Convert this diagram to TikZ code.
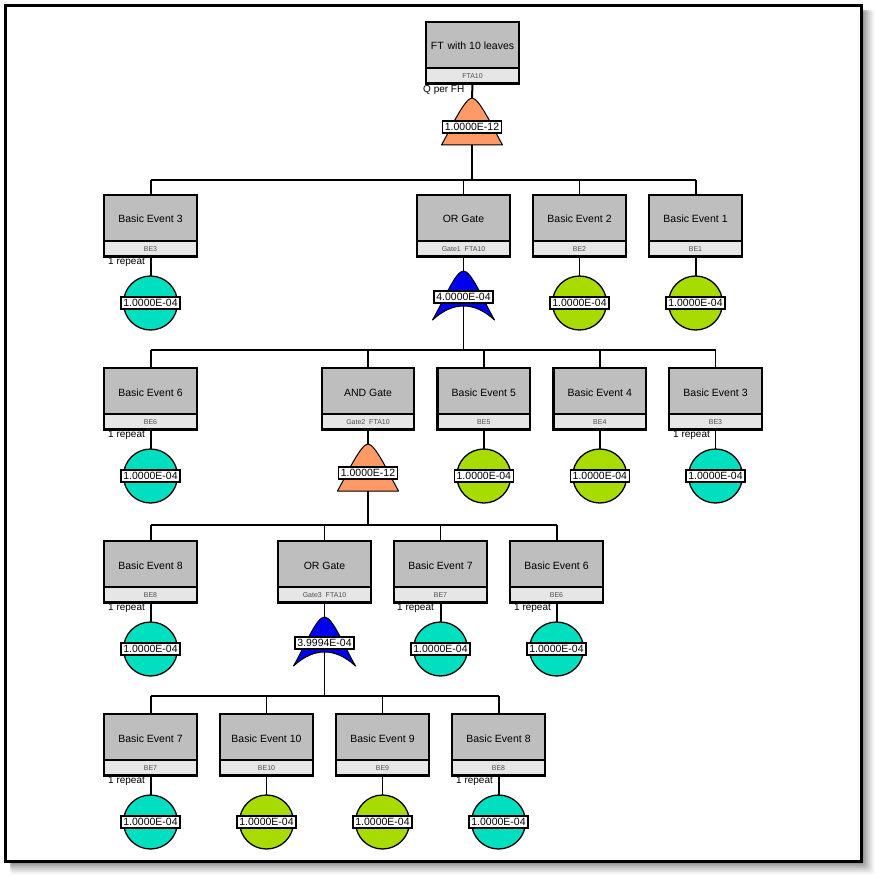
\documentclass[tikz,border=0pt]{standalone}
\usepackage{fontspec}
\setmainfont{Liberation Sans}
\definecolor{boxgray}{HTML}{BEBEBE}
\definecolor{subgray}{HTML}{E6E6E6}
\definecolor{andorange}{HTML}{FF9966}
\definecolor{orblue}{HTML}{0000F0}
\definecolor{teal}{HTML}{00E0C0}
\definecolor{lime}{HTML}{A8DC00}
\tikzset{
  wire/.style={line width=2pt,draw=black},
  thinwire/.style={line width=1pt,draw=black},
  titlebox/.style={draw=black,line width=2.2pt,fill=boxgray,minimum width=92.5pt,minimum height=46pt,outer sep=0pt,inner sep=0pt,anchor=north,font=\fontsize{10.5}{12}\selectfont},
  subbox/.style={draw=black,line width=2.2pt,fill=subgray,minimum width=92.5pt,minimum height=15.5pt,outer sep=0pt,inner sep=0pt,anchor=north,font=\fontsize{7}{8}\selectfont,text=black!70},
  valuebox/.style={draw=black,line width=1.4pt,fill=white,minimum width=59pt,minimum height=12pt,inner sep=0pt,outer sep=0pt,font=\fontsize{10.5}{12}\selectfont},
  eventdisc/.style={circle,draw=black,line width=1.3pt,minimum size=54pt,inner sep=0pt,outer sep=0pt},
  note/.style={inner sep=0pt,anchor=west,font=\fontsize{10}{12}\selectfont},
  gateline/.style={draw=black,line width=1pt,line join=round}
}
% title box with its lower id strip; the id names the title part
\newcommand{\ftbox}[5]{%
  \node[titlebox] (#1) at (#2,#3) {\raisebox{-1pt}[8pt][0pt]{#4}};
  \node[subbox] (#1-s) at (#1.south) {\raisebox{-0.7pt}[5pt][0pt]{#5}};
}
% basic event disc placed under a box
\newcommand{\evdisc}[4]{%
  \node[eventdisc,fill=#3] (#1-d) at (#2,#4+108) {};
  \node[valuebox] (#1-v) at (#2,#4+108) {1.0000E-04};
}
% AND gate: bell on a flat base
\newcommand{\andgate}[4]{%
  \coordinate (#1-tip) at (#2,#3+76);
  \coordinate (#1-base) at (#2,#3+123);
  \draw[gateline,fill=andorange,shift={(#2,#3+76)}]
    (-30.5,47) .. controls (-20,28) and (-7,0) .. (0,0)
    .. controls (7,0) and (20,28) .. (30.5,47) -- cycle;
  \node[valuebox] (#1-v) at (#2,#3+105) {#4};
}
% OR gate: bell with an arched base and pointed feet
\newcommand{\orgate}[4]{%
  \coordinate (#1-tip) at (#2,#3+76);
  \coordinate (#1-base) at (#2,#3+111);
  \draw[gateline,fill=orblue,shift={(#2,#3+76)}]
    (-31,49) .. controls (-19,28) and (-8,0) .. (0,0)
    .. controls (8,0) and (19,28) .. (31,49)
    .. controls (20,39) and (10,35) .. (0,35)
    .. controls (-10,35) and (-20,39) .. (-31,49) -- cycle;
  \node[valuebox] (#1-v) at (#2,#3+102) {#4};
}
\begin{document}
\begin{tikzpicture}[x=1pt,y=-1pt]
\useasboundingbox (0,0) rectangle (876,877);
\fill[white] (0,0) rectangle (876,877);

% sheet with its soft drop shadow
\foreach \s/\o in {14/0.05,12/0.06,10/0.08,8/0.09,6/0.1,4/0.12,2/0.14}{
  \fill[black,opacity=\o,rounded corners=3pt] (10,10) rectangle (862+\s-2,862+\s-2);
}
\draw[black,line width=3pt,fill=white] (5.5,5.5) rectangle (861.5,861.5);

% bus levels
\coordinate (busA) at (0,180);
\coordinate (busB) at (0,350);
\coordinate (busC) at (0,525);
\coordinate (busD) at (0,696);

% top event
\ftbox{top}{472.5}{22}{FT\hspace{1pt} with 10 leaves}{FTA10}
\andgate{gtop}{472}{22}{1.0000E-12}
\node[note] (qlabel) at (423,90) {Q per FH};

% first level
\ftbox{aBE3}{150.5}{195}{Basic Event 3}{BE3}
\ftbox{aOR}{463.5}{195}{OR Gate}{Gate1\ \ FTA10}
\ftbox{aBE2}{579.5}{195}{Basic Event 2}{BE2}
\ftbox{aBE1}{695.5}{195}{Basic Event 1}{BE1}
\evdisc{aBE3}{150.5}{teal}{195}
\evdisc{aBE2}{579.5}{lime}{195}
\evdisc{aBE1}{695.5}{lime}{195}
\orgate{gA}{463.5}{195}{4.0000E-04}
\node[note] (repA) at (108,262) {1 repeat};

% second level
\ftbox{bBE6}{150.5}{368}{Basic Event 6}{BE6}
\ftbox{bAND}{368}{368}{AND Gate}{Gate2\ \ FTA10}
\ftbox{bBE5}{483.8}{368}{Basic Event 5}{BE5}
\ftbox{bBE4}{599.8}{368}{Basic Event 4}{BE4}
\ftbox{bBE3}{715.5}{368}{Basic Event 3}{BE3}
\evdisc{bBE6}{150.5}{teal}{368}
\evdisc{bBE5}{483.8}{lime}{368}
\evdisc{bBE4}{599.8}{lime}{368}
\evdisc{bBE3}{715.5}{teal}{368}
\andgate{gB}{368}{368}{1.0000E-12}
\node[note] (repB1) at (108,435) {1 repeat};
\node[note] (repB2) at (673,435) {1 repeat};

% third level
\ftbox{cBE8}{150.5}{541}{Basic Event 8}{BE8}
\ftbox{cOR}{324.5}{541}{OR Gate}{Gate3\ \ FTA10}
\ftbox{cBE7}{440.5}{541}{Basic Event 7}{BE7}
\ftbox{cBE6}{556.5}{541}{Basic Event 6}{BE6}
\evdisc{cBE8}{150.5}{teal}{541}
\evdisc{cBE7}{440.5}{teal}{541}
\evdisc{cBE6}{556.5}{teal}{541}
\orgate{gC}{324.5}{541}{3.9994E-04}
\node[note] (repC1) at (108,608) {1 repeat};
\node[note] (repC2) at (397,608) {1 repeat};
\node[note] (repC3) at (514,608) {1 repeat};

% fourth level
\ftbox{dBE7}{150.5}{714}{Basic Event 7}{BE7}
\ftbox{dBE10}{266.5}{714}{Basic Event 10}{BE10}
\ftbox{dBE9}{382.5}{714}{Basic Event 9}{BE9}
\ftbox{dBE8}{498.5}{714}{Basic Event 8}{BE8}
\evdisc{dBE7}{150.5}{teal}{714}
\evdisc{dBE10}{266.5}{lime}{714}
\evdisc{dBE9}{382.5}{lime}{714}
\evdisc{dBE8}{498.5}{teal}{714}
\node[note] (repD1) at (108,781) {1 repeat};
\node[note] (repD2) at (456,781) {1 repeat};

% top gate connectors
\draw[wire] (top-s.south) -- (gtop-tip);
\draw[wire] (gtop-base) -- (gtop-base |- busA);
\draw[wire] (aBE3.north |- busA) -- (aBE1.north |- busA);
\draw[wire] (aBE3.north |- busA) -- (aBE3.north);
\draw[thinwire] (aOR.north |- busA) -- (aOR.north);
\draw[thinwire] (aBE2.north |- busA) -- (aBE2.north);
\draw[wire] (aBE1.north |- busA) -- (aBE1.north);
\draw[wire] (aBE3-s.south) -- (aBE3-d.north);
\draw[thinwire] (aBE2-s.south) -- (aBE2-d.north);
\draw[wire] (aBE1-s.south) -- (aBE1-d.north);
\draw[thinwire] (aOR-s.south) -- (gA-tip);

% first OR gate connectors
\draw[thinwire] (gA-base) -- (gA-base |- busB);
\draw[wire] (bBE6.north |- busB) -- (bBE3.north |- busB);
\draw[wire] (bBE6.north |- busB) -- (bBE6.north);
\draw[wire] (bAND.north |- busB) -- (bAND.north);
\draw[wire] (bBE5.north |- busB) -- (bBE5.north);
\draw[wire] (bBE4.north |- busB) -- (bBE4.north);
\draw[thinwire] (bBE3.north |- busB) -- (bBE3.north);
\draw[wire] (bBE6-s.south) -- (bBE6-d.north);
\draw[wire] (bBE5-s.south) -- (bBE5-d.north);
\draw[wire] (bBE4-s.south) -- (bBE4-d.north);
\draw[thinwire] (bBE3-s.south) -- (bBE3-d.north);
\draw[wire] (bAND-s.south) -- (gB-tip);

% AND gate connectors
\draw[wire] (gB-base) -- (gB-base |- busC);
\draw[wire] (cBE8.north |- busC) -- (cBE6.north |- busC);
\draw[wire] (cBE8.north |- busC) -- (cBE8.north);
\draw[thinwire] (cOR.north |- busC) -- (cOR.north);
\draw[thinwire] (cBE7.north |- busC) -- (cBE7.north);
\draw[wire] (cBE6.north |- busC) -- (cBE6.north);
\draw[wire] (cBE8-s.south) -- (cBE8-d.north);
\draw[wire] (cBE7-s.south) -- (cBE7-d.north);
\draw[wire] (cBE6-s.south) -- (cBE6-d.north);
\draw[thinwire] (cOR-s.south) -- (gC-tip);

% second OR gate connectors
\draw[thinwire] (gC-base) -- (gC-base |- busD);
\draw[wire] (dBE7.north |- busD) -- (dBE8.north |- busD);
\draw[wire] (dBE7.north |- busD) -- (dBE7.north);
\draw[thinwire] (dBE10.north |- busD) -- (dBE10.north);
\draw[thinwire] (dBE9.north |- busD) -- (dBE9.north);
\draw[wire] (dBE8.north |- busD) -- (dBE8.north);
\draw[wire] (dBE7-s.south) -- (dBE7-d.north);
\draw[thinwire] (dBE10-s.south) -- (dBE10-d.north);
\draw[thinwire] (dBE9-s.south) -- (dBE9-d.north);
\draw[wire] (dBE8-s.south) -- (dBE8-d.north);
\end{tikzpicture}
\end{document}
